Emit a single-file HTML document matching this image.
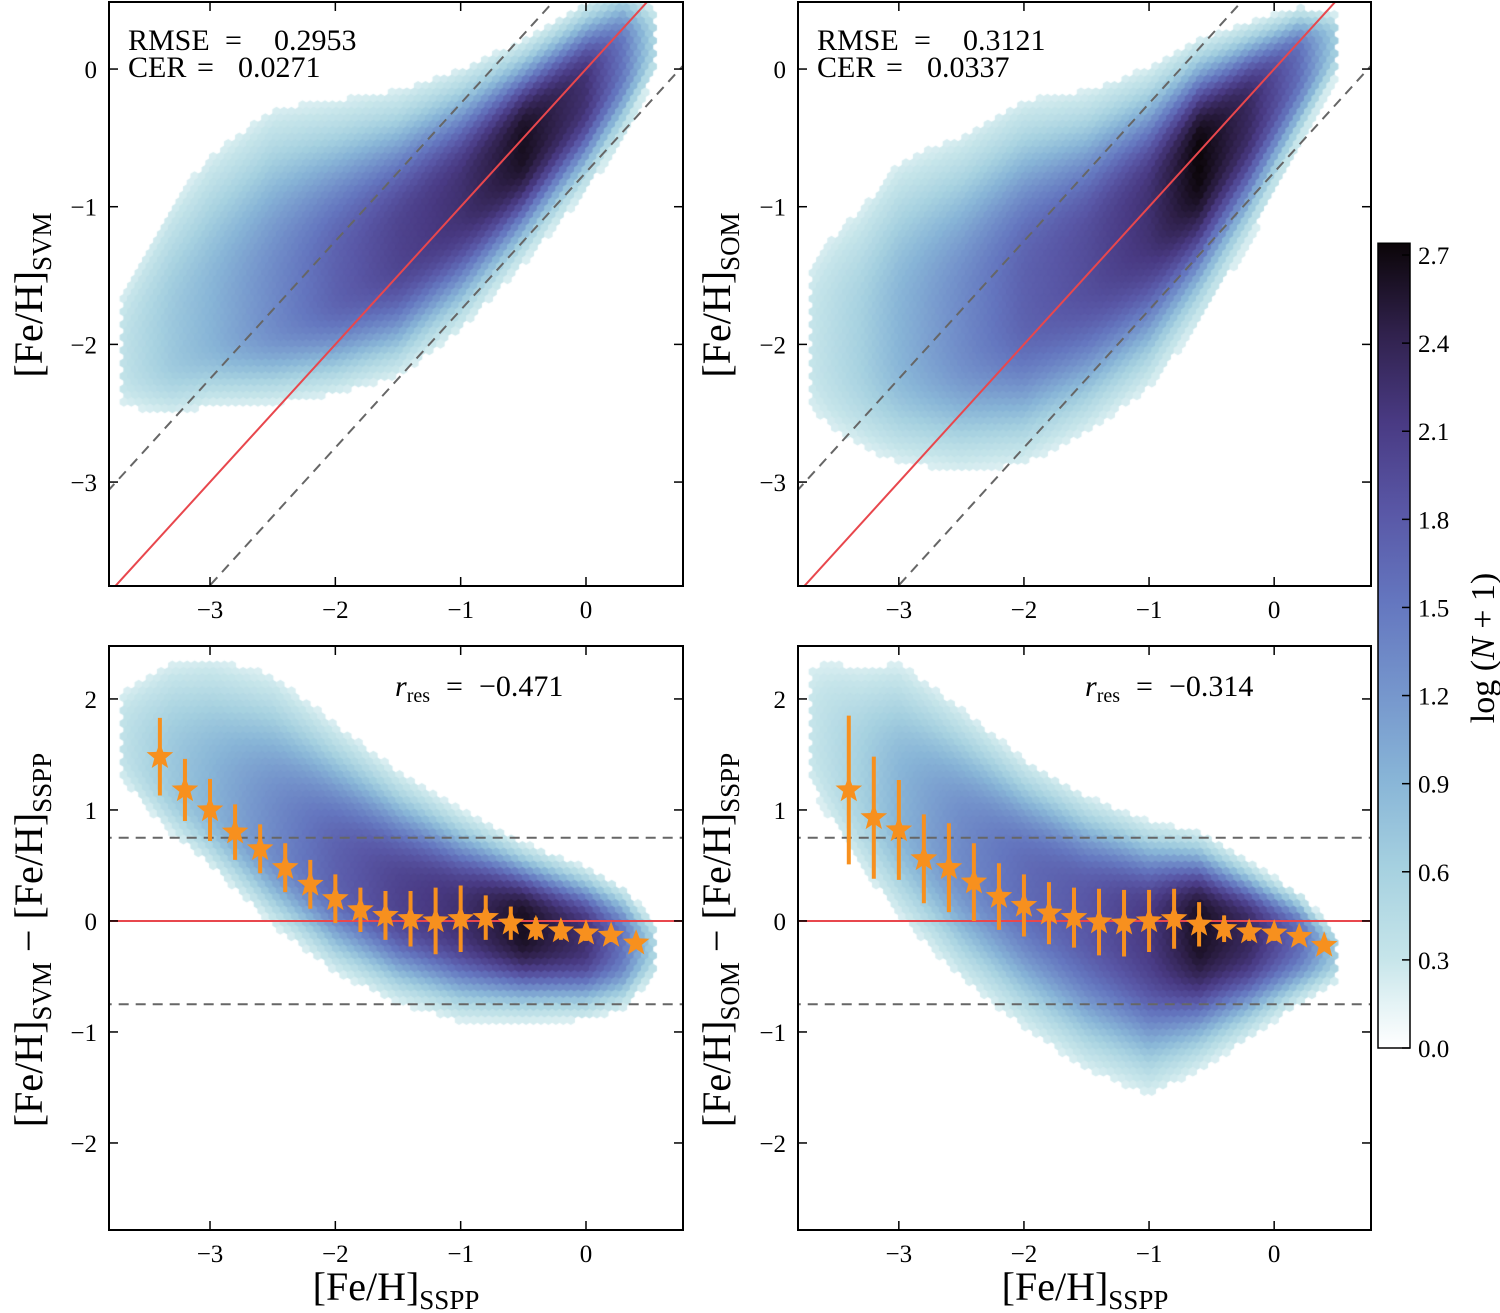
<!DOCTYPE html>
<html><head><meta charset="utf-8"><style>
html,body{margin:0;padding:0;background:#fff;width:1500px;height:1313px;overflow:hidden}
#wrap{position:relative;width:1500px;height:1313px}
canvas{position:absolute}
svg{position:absolute;left:0;top:0}
text{font-family:"Liberation Serif",serif;fill:#000}
</style></head><body>
<div id="wrap">
<canvas id="c1"></canvas>
<canvas id="c2"></canvas>
<canvas id="c3"></canvas>
<canvas id="c4"></canvas>
<svg id="svg" width="1500" height="1313"></svg>
</div>
<script>
// ---- data ----
const ridgeX1=[-3.7,-3.3,-3.0,-2.5,-2.0,-1.5,-1.0,-0.5,0,0.3,0.55];
const ridgeC1=[-2.1,-2.0,-1.9,-1.75,-1.55,-1.3,-0.95,-0.55,-0.15,0.1,0.2];
const ridgeSU1=[0.35,0.6,0.7,0.75,0.65,0.55,0.45,0.35,0.3,0.25,0.15];
const ridgeSD1=[0.25,0.3,0.3,0.35,0.4,0.45,0.45,0.4,0.35,0.3,0.15];
const ridgeP1=[0.35,0.7,0.9,1.3,1.7,2.0,2.2,2.6,2.2,1.5,0.5];

const ridgeX2=[-3.7,-3.3,-3.0,-2.5,-2.0,-1.5,-1.0,-0.6,-0.2,0.2,0.5];
const ridgeC2=[-2.0,-2.0,-1.95,-1.85,-1.65,-1.4,-1.05,-0.65,-0.3,0.05,0.2];
const ridgeSU2=[0.5,0.6,0.7,0.7,0.7,0.6,0.5,0.4,0.3,0.2,0.12];
const ridgeSD2=[0.4,0.45,0.5,0.55,0.6,0.6,0.6,0.55,0.45,0.3,0.15];
const ridgeP2=[0.3,0.6,0.9,1.3,1.7,1.9,2.2,2.7,2.3,1.6,0.6];

const ridgeX3=[-3.7,-3.3,-3.0,-2.5,-2.0,-1.5,-1.0,-0.5,0,0.3,0.55];
const ridgeC3=[1.6,1.3,1.1,0.75,0.45,0.2,0.05,-0.05,-0.15,-0.2,-0.25];
const ridgeSU3=[0.35,0.6,0.7,0.75,0.65,0.55,0.45,0.35,0.3,0.25,0.15];
const ridgeSD3=[0.25,0.3,0.33,0.4,0.45,0.45,0.45,0.4,0.35,0.3,0.15];
const ridgeP3=[0.35,0.7,0.9,1.3,1.7,2.0,2.2,2.6,2.2,1.5,0.5];

const ridgeX4=[-3.7,-3.3,-3.0,-2.5,-2.0,-1.5,-1.0,-0.6,-0.2,0.2,0.5];
const ridgeC4=[1.7,1.3,1.05,0.65,0.35,0.1,-0.05,-0.05,-0.1,-0.15,-0.3];
const ridgeSU4=[0.5,0.6,0.7,0.65,0.55,0.5,0.45,0.4,0.3,0.2,0.12];
const ridgeSD4=[0.4,0.5,0.55,0.6,0.65,0.7,0.72,0.6,0.45,0.3,0.15];
const ridgeP4=[0.3,0.6,0.9,1.3,1.6,1.8,2.1,2.6,2.3,1.6,0.6];

const binX=[-3.4,-3.2,-3.0,-2.8,-2.6,-2.4,-2.2,-2.0,-1.8,-1.6,-1.4,-1.2,-1.0,-0.8,-0.6,-0.4,-0.2,0.0,0.2,0.4];
const medSVM=[1.48,1.18,1.0,0.8,0.65,0.48,0.33,0.2,0.1,0.05,0.02,0.0,0.02,0.03,-0.02,-0.07,-0.09,-0.11,-0.13,-0.2];
const errSVM=[0.35,0.28,0.28,0.25,0.22,0.22,0.22,0.22,0.2,0.22,0.25,0.3,0.3,0.2,0.15,0.1,0.08,0.07,0.06,0.05];
const medSOM=[1.18,0.93,0.82,0.56,0.48,0.35,0.22,0.14,0.07,0.03,-0.01,-0.02,0.0,0.02,-0.03,-0.07,-0.1,-0.11,-0.14,-0.22];
const errSOM=[0.67,0.55,0.45,0.4,0.4,0.35,0.3,0.28,0.28,0.27,0.3,0.3,0.28,0.27,0.2,0.12,0.08,0.07,0.06,0.05];

const xTicks=[-3,-2,-1,0];
const yTicksTop=[-3,-2,-1,0];
const yTicksBot=[-2,-1,0,1,2];
const cbTicks=[0.0,0.3,0.6,0.9,1.2,1.5,1.8,2.1,2.4,2.7];
const cmapV=[0,0.15,0.3,0.6,0.9,1.2,1.5,1.8,2.1,2.4,2.7];
const cmapC=["#ffffff","#e4f3f5","#c6e5ea","#a6d1e0","#88b5d7","#7595cc","#6476bf","#5957a6","#493a83","#30214c","#0b0508"];

// ---- helpers ----
const NS="http://www.w3.org/2000/svg";
const svg=document.getElementById('svg');
function el(tag,attrs,parent){const e=document.createElementNS(NS,tag);for(const k in attrs)e.setAttribute(k,attrs[k]);(parent||svg).appendChild(e);return e;}
function hex2rgb(h){return [parseInt(h.slice(1,3),16),parseInt(h.slice(3,5),16),parseInt(h.slice(5,7),16)];}
function cmap(v){
  if(v<=cmapV[0])return cmapC[0];
  for(let i=1;i<cmapV.length;i++){if(v<=cmapV[i]){const t=(v-cmapV[i-1])/(cmapV[i]-cmapV[i-1]);const a=hex2rgb(cmapC[i-1]),b=hex2rgb(cmapC[i]);return `rgb(${Math.round(a[0]+(b[0]-a[0])*t)},${Math.round(a[1]+(b[1]-a[1])*t)},${Math.round(a[2]+(b[2]-a[2])*t)})`;}}
  return cmapC[cmapC.length-1];
}
function interp(xs,ys,x){for(let i=1;i<xs.length;i++){if(x<=xs[i]){const t=(x-xs[i-1])/(xs[i]-xs[i-1]);return ys[i-1]+(ys[i]-ys[i-1])*t;}}return ys[ys.length-1];}

const XL=[-3.806,0.774];
const panels=[
 {id:'c1',L:109,R:683,T:2,B:586,yl:[-3.755,0.487],rx:ridgeX1,rc:ridgeC1,su:ridgeSU1,sd:ridgeSD1,rp:ridgeP1},
 {id:'c2',L:798,R:1371,T:2,B:586,yl:[-3.755,0.487],rx:ridgeX2,rc:ridgeC2,su:ridgeSU2,sd:ridgeSD2,rp:ridgeP2},
 {id:'c3',L:109,R:683,T:646,B:1230,yl:[-2.784,2.477],rx:ridgeX3,rc:ridgeC3,su:ridgeSU3,sd:ridgeSD3,rp:ridgeP3},
 {id:'c4',L:798,R:1371,T:646,B:1230,yl:[-2.784,2.477],rx:ridgeX4,rc:ridgeC4,su:ridgeSU4,sd:ridgeSD4,rp:ridgeP4}
];
panels.forEach(p=>{
  p.sx=x=>p.L+(x-XL[0])/(XL[1]-XL[0])*(p.R-p.L);
  p.sy=y=>p.B-(y-p.yl[0])/(p.yl[1]-p.yl[0])*(p.B-p.T);
  p.ix=px=>XL[0]+(px-p.L)/(p.R-p.L)*(XL[1]-XL[0]);
  p.iy=py=>p.yl[0]+(p.B-py)/(p.B-p.T)*(p.yl[1]-p.yl[0]);
  const cv=document.getElementById(p.id);
  const w=p.R-p.L,h=p.B-p.T;cv.width=w;cv.height=h;cv.style.left=p.L+'px';cv.style.top=p.T+'px';
  const ctx=cv.getContext('2d');
  const r=4.3,dx=Math.sqrt(3)*r,dy=1.5*r;
  let row=0;
  for(let cy=0;cy<h+r;cy+=dy,row++){
    for(let cx=(row%2?dx/2:0);cx<w+r;cx+=dx){
      const x=p.ix(cx+p.L),y=p.iy(cy+p.T);
      if(x<p.rx[0]||x>p.rx[p.rx.length-1])continue;
      const c=interp(p.rx,p.rc,x),pk=interp(p.rx,p.rp,x);
      const s=1.25*(y>c?interp(p.rx,p.su,x):interp(p.rx,p.sd,x));
      const d=Math.abs((y-c)/s);const v=pk*Math.exp(-0.5*d*d*d);
      if(v<0.2)continue;
      ctx.fillStyle=cmap(v);ctx.beginPath();
      for(let k=0;k<6;k++){const a=Math.PI/6+k*Math.PI/3;ctx.lineTo(cx+(r+0.6)*Math.cos(a),cy+(r+0.6)*Math.sin(a));}
      ctx.fill();
    }
  }
});

// ---- overlay ----
const RED="#e8474d",GRAY="#666";
function line(p,x1,y1,x2,y2,st,name){const l=el('line',{x1:p.sx(x1),y1:p.sy(y1),x2:p.sx(x2),y2:p.sy(y2),stroke:st.c,'stroke-width':st.w,'stroke-dasharray':st.d||'','clip-path':'url(#clip'+p.id+')'});}
const defs=el('defs',{});
panels.forEach(p=>{const cp=el('clipPath',{id:'clip'+p.id},defs);el('rect',{x:p.L,y:p.T,width:p.R-p.L,height:p.B-p.T},cp);});
[panels[0],panels[1]].forEach(p=>{
  line(p,-4,-4,1,1,{c:RED,w:2},'identity-line');
  line(p,-4,-3.25,1,1.75,{c:GRAY,w:2,d:'10,7'},'upper-dashed-line');
  line(p,-4,-4.75,1,0.25,{c:GRAY,w:2,d:'10,7'},'lower-dashed-line');
});
[panels[2],panels[3]].forEach(p=>{
  line(p,-4,0,1,0,{c:RED,w:2},'zero-line');
  line(p,-4,0.75,1,0.75,{c:GRAY,w:2,d:'10,7'},'upper-dashed-line');
  line(p,-4,-0.75,1,-0.75,{c:GRAY,w:2,d:'10,7'},'lower-dashed-line');
});
function star(cx,cy,R){let pts=[];for(let k=0;k<10;k++){const a=-Math.PI/2+k*Math.PI/5;const rr=k%2?R*0.42:R;pts.push((cx+rr*Math.cos(a)).toFixed(1)+','+(cy+rr*Math.sin(a)).toFixed(1));}return pts.join(' ');}
[[panels[2],medSVM,errSVM],[panels[3],medSOM,errSOM]].forEach(([p,m,e])=>{
  binX.forEach((x,i)=>{
    const b=el('line',{x1:p.sx(x),x2:p.sx(x),y1:p.sy(m[i]+e[i]),y2:p.sy(m[i]-e[i]),stroke:'#f7901e','stroke-width':4});
    
  });
  binX.forEach((x,i)=>{
    const s=el('polygon',{points:star(p.sx(x),p.sy(m[i]),14),fill:'#f7901e'});
    
  });
});
function mtxt(x,y,str,size,attrs,name){const t=el('text',Object.assign({x:x,y:y,'font-size':size},attrs||{}));t.textContent=str;return t;}
panels.forEach((p,pi)=>{
  const fr=el('rect',{x:p.L,y:p.T,width:p.R-p.L,height:p.B-p.T,fill:'none',stroke:'#000','stroke-width':2});
  
  xTicks.forEach(v=>{const X=p.sx(v);el('line',{x1:X,x2:X,y1:p.B,y2:p.B-9,stroke:'#000','stroke-width':1.5});el('line',{x1:X,x2:X,y1:p.T,y2:p.T+9,stroke:'#000','stroke-width':1.5});
    mtxt(X,p.B+32,(v<0?'\u2212':'')+Math.abs(v),25,{'text-anchor':'middle'},'x-tick-label');});
  (pi<2?yTicksTop:yTicksBot).forEach(v=>{const Y=p.sy(v);el('line',{x1:p.L,x2:p.L+9,y1:Y,y2:Y,stroke:'#000','stroke-width':1.5});el('line',{x1:p.R,x2:p.R-9,y1:Y,y2:Y,stroke:'#000','stroke-width':1.5});
    mtxt(p.L-12,Y+9,(v<0?'\u2212':'')+Math.abs(v),25,{'text-anchor':'end'},'y-tick-label');});
});
// annotations (pieces placed explicitly)
function stat(ox,lab,val,y,eqx,vx,name){
  const t=el('text',{y:y,'font-size':30});
  const a=el('tspan',{x:ox},t);a.textContent=lab;
  const b=el('tspan',{x:ox+eqx},t);b.textContent='=';
  const c=el('tspan',{x:ox+vx},t);c.textContent=val;
}
stat(128,'RMSE','0.2953',50,97,146,'rmse-svm');
stat(128,'CER','0.0271',77,69,110,'cer-svm');
stat(817,'RMSE','0.3121',50,97,146,'rmse-som');
stat(817,'CER','0.0337',77,69,110,'cer-som');
function rres(x,val,name){const t=el('text',{y:696,'font-size':30});
  const a=el('tspan',{x:x,'font-style':'italic'},t);a.textContent='r';
  const b=el('tspan',{'font-size':20,dy:6},t);b.textContent='res';
  const c=el('tspan',{x:x+51,dy:-6},t);c.textContent='=';
  const d=el('tspan',{x:x+84},t);d.textContent=val;}
rres(395,'\u22120.471','r-res-svm');rres(1085,'\u22120.314','r-res-som');
// axis labels
function fe(x,y,parts,rot,name){const t=mtxt(x,y,'',40,{'text-anchor':'middle',transform:rot?`rotate(-90 ${x} ${y})`:''},name);
  parts.forEach(pt=>{const s=el('tspan',pt[1]?{'font-size':27,dy:9}:{dy:pt[2]||0},t);s.textContent=pt[0];});}
fe(42,295,[['[Fe/H]'],['SVM',1]],true,'y-axis-title-svm');
fe(730,295,[['[Fe/H]'],['SOM',1]],true,'y-axis-title-som');
fe(42,940,[['[Fe/H]'],['SVM',1],[' \u2212 [Fe/H]',0,-9],['SSPP',1]],true,'y-axis-title-svm-residual');
fe(730,940,[['[Fe/H]'],['SOM',1],[' \u2212 [Fe/H]',0,-9],['SSPP',1]],true,'y-axis-title-som-residual');
fe(396,1300,[['[Fe/H]'],['SSPP',1]],false,'x-axis-title-left');
fe(1085,1300,[['[Fe/H]'],['SSPP',1]],false,'x-axis-title-right');
// colorbar
const g=el('linearGradient',{id:'cbg',x1:0,y1:1,x2:0,y2:0},defs);
cmapV.forEach((v,i)=>el('stop',{offset:v/2.7,'stop-color':cmapC[i]},g));
const cbT=255-0.04*293.7,cbB=1048;
const cb=el('rect',{x:1378,y:cbT,width:32,height:cbB-cbT,fill:'url(#cbg)',stroke:'#000','stroke-width':1.5});

cbTicks.forEach(v=>{const Y=cbB-v*293.7;el('line',{x1:1410,x2:1402,y1:Y,y2:Y,stroke:'#000','stroke-width':1.5});mtxt(1418,Y+9,v.toFixed(1),25,{},'colorbar-tick-label');});
const cl=mtxt(1494,648,'',34,{'text-anchor':'middle',transform:'rotate(-90 1494 648)'},'colorbar-label');
[['log ('],['N',1],[' + 1)']].forEach(pt=>{const s=el('tspan',pt[1]?{'font-style':'italic'}:{},cl);s.textContent=pt[0];});
</script>
</body></html>
